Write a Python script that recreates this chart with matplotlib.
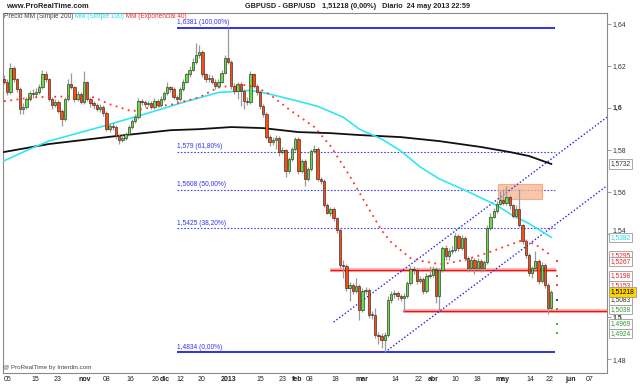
import numpy as np
import matplotlib
matplotlib.use("Agg")
from matplotlib import pyplot as plt
from matplotlib import transforms
from matplotlib.patches import Rectangle

plt.rcParams['font.family'] = ['Liberation Sans', 'DejaVu Sans']

# GBPUSD daily candles, bar 0 .. 171 (last bar = 24 may 2013)
# forex daily bars: each open is the previous close
first_open = 1.6135
close = [
    1.6125, 1.6073, 1.6192, 1.6135, 1.6088, 1.5993, 1.6002, 1.6040, 1.6069, 1.6064,
    1.6073, 1.6097, 1.6159, 1.6135, 1.6040, 1.6012, 1.6026, 1.5983, 1.5945, 1.6040,
    1.6111, 1.6097, 1.6040, 1.6064, 1.6026, 1.6121, 1.6040, 1.6021, 1.6012, 1.5993,
    1.6002, 1.5974, 1.5898, 1.5912, 1.5908, 1.5865, 1.5846, 1.5856, 1.5874, 1.5908,
    1.5936, 1.5955, 1.6031, 1.6026, 1.6017, 1.6021, 1.6002, 1.6031, 1.6012, 1.6040,
    1.6069, 1.6097, 1.6088, 1.6050, 1.6040, 1.6088, 1.6125, 1.6159, 1.6182, 1.6220,
    1.6253, 1.6267, 1.6159, 1.6135, 1.6144, 1.6125, 1.6102, 1.6125, 1.6168, 1.6239,
    1.6220, 1.6102, 1.6078, 1.6111, 1.6078, 1.6031, 1.6026, 1.6159, 1.6102, 1.6073,
    1.6007, 1.5969, 1.5860, 1.5837, 1.5846, 1.5856, 1.5789, 1.5799, 1.5699, 1.5756,
    1.5803, 1.5851, 1.5699, 1.5747, 1.5661, 1.5709, 1.5794, 1.5803, 1.5661, 1.5652,
    1.5538, 1.5500, 1.5519, 1.5472, 1.5415, 1.5249, 1.5245, 1.5141, 1.5155, 1.5126,
    1.5150, 1.5036, 1.5126, 1.5131, 1.5013, 1.5013, 1.4918, 1.4913, 1.4894, 1.4918,
    1.5084, 1.5112, 1.5117, 1.5103, 1.5093, 1.5103, 1.5164, 1.5231, 1.5226, 1.5174,
    1.5183, 1.5126, 1.5197, 1.5202, 1.5231, 1.5103, 1.5226, 1.5330, 1.5292, 1.5316,
    1.5320, 1.5387, 1.5330, 1.5377, 1.5283, 1.5235, 1.5273, 1.5235, 1.5268, 1.5235,
    1.5264, 1.5425, 1.5481, 1.5510, 1.5543, 1.5562, 1.5548, 1.5576, 1.5534, 1.5486,
    1.5519, 1.5439, 1.5363, 1.5297, 1.5212, 1.5235, 1.5268, 1.5174, 1.5249, 1.5155,
    1.5046, 1.51218]
high = [
    1.6154, 1.6135, 1.6215, 1.6201, 1.6144, 1.6097, 1.6021, 1.6050, 1.6078, 1.6088,
    1.6092, 1.6111, 1.6182, 1.6173, 1.6144, 1.6050, 1.6040, 1.6035, 1.5993, 1.6050,
    1.6135, 1.6168, 1.6106, 1.6078, 1.6073, 1.6173, 1.6130, 1.6050, 1.6031, 1.6021,
    1.6017, 1.6012, 1.5983, 1.5922, 1.5927, 1.5917, 1.5874, 1.5870, 1.5884, 1.5917,
    1.5945, 1.5969, 1.6045, 1.6040, 1.6035, 1.6031, 1.6031, 1.6045, 1.6040, 1.6054,
    1.6078, 1.6125, 1.6106, 1.6097, 1.6059, 1.6097, 1.6135, 1.6168, 1.6201, 1.6239,
    1.6310, 1.6301, 1.6277, 1.6168, 1.6159, 1.6154, 1.6135, 1.6135, 1.6182, 1.6253,
    1.6381, 1.6230, 1.6116, 1.6125, 1.6121, 1.6088, 1.6050, 1.6173, 1.6168, 1.6111,
    1.6083, 1.6017, 1.5979, 1.5870, 1.5860, 1.5870, 1.5865, 1.5813, 1.5803, 1.5766,
    1.5813, 1.5860, 1.5860, 1.5756, 1.5756, 1.5718, 1.5803, 1.5822, 1.5813, 1.5671,
    1.5661, 1.5548, 1.5529, 1.5529, 1.5481, 1.5425, 1.5273, 1.5254, 1.5169, 1.5164,
    1.5188, 1.5160, 1.5141, 1.5145, 1.5141, 1.5032, 1.5046, 1.4932, 1.4927, 1.4932,
    1.5103, 1.5126, 1.5131, 1.5126, 1.5112, 1.5117, 1.5174, 1.5245, 1.5245, 1.5235,
    1.5197, 1.5193, 1.5212, 1.5245, 1.5245, 1.5240, 1.5235, 1.5339, 1.5344, 1.5330,
    1.5339, 1.5401, 1.5396, 1.5392, 1.5387, 1.5292, 1.5287, 1.5283, 1.5283, 1.5278,
    1.5273, 1.5439, 1.5496, 1.5524, 1.5557, 1.5605, 1.5614, 1.5628, 1.5586, 1.5543,
    1.5534, 1.5614, 1.5448, 1.5373, 1.5306, 1.5245, 1.5316, 1.5278, 1.5264, 1.5259,
    1.5164, 1.5131]
low = [
    1.6111, 1.6059, 1.6064, 1.6121, 1.6073, 1.5969, 1.5969, 1.5993, 1.6031, 1.6045,
    1.6050, 1.6064, 1.6088, 1.6121, 1.6031, 1.5993, 1.6002, 1.5974, 1.5912, 1.5936,
    1.6031, 1.6088, 1.6026, 1.6031, 1.6017, 1.6017, 1.6031, 1.6002, 1.5993, 1.5983,
    1.5979, 1.5960, 1.5889, 1.5884, 1.5893, 1.5851, 1.5827, 1.5837, 1.5846, 1.5865,
    1.5898, 1.5927, 1.5945, 1.6012, 1.6002, 1.6007, 1.5993, 1.5993, 1.6002, 1.6002,
    1.6031, 1.6059, 1.6073, 1.6040, 1.6026, 1.6031, 1.6078, 1.6116, 1.6149, 1.6173,
    1.6211, 1.6239, 1.6149, 1.6121, 1.6125, 1.6111, 1.6088, 1.6092, 1.6116, 1.6159,
    1.6211, 1.6088, 1.6064, 1.6040, 1.6007, 1.5993, 1.6012, 1.6017, 1.6092, 1.6059,
    1.5993, 1.5955, 1.5851, 1.5818, 1.5822, 1.5803, 1.5770, 1.5780, 1.5671, 1.5690,
    1.5747, 1.5794, 1.5685, 1.5690, 1.5628, 1.5652, 1.5699, 1.5784, 1.5652, 1.5638,
    1.5529, 1.5491, 1.5486, 1.5462, 1.5401, 1.5235, 1.5188, 1.5126, 1.5079, 1.5112,
    1.5117, 1.4989, 1.5027, 1.5112, 1.4998, 1.4994, 1.4904, 1.4871, 1.4856, 1.4834,
    1.4909, 1.5069, 1.5093, 1.5084, 1.5079, 1.5032, 1.5093, 1.5155, 1.5207, 1.5160,
    1.5164, 1.5112, 1.5117, 1.5188, 1.5193, 1.5069, 1.5032, 1.5216, 1.5273, 1.5273,
    1.5302, 1.5311, 1.5316, 1.5320, 1.5268, 1.5216, 1.5226, 1.5207, 1.5226, 1.5216,
    1.5221, 1.5254, 1.5415, 1.5472, 1.5500, 1.5534, 1.5534, 1.5538, 1.5519, 1.5472,
    1.5472, 1.5429, 1.5349, 1.5283, 1.5197, 1.5188, 1.5221, 1.5160, 1.5164, 1.5141,
    1.5017, 1.5036]

# moving averages, sampled off the chart (bar, value)
ma200_bar = [0, 14, 35, 52, 61, 71, 81, 92, 102, 111, 124, 136, 149, 158, 164, 171]
ma200_val = [1.5789, 1.5827, 1.5865, 1.5893, 1.5898, 1.5908, 1.5903, 1.5884, 1.5879,
             1.5870, 1.5860, 1.5841, 1.5813, 1.5789, 1.5770, 1.5732]
ma100_bar = [0, 8, 14, 30, 46, 56, 67, 77, 82, 92, 98, 106, 111, 118, 124, 130, 136,
             145, 154, 159, 164, 171]
ma100_val = [1.5747, 1.5803, 1.5841, 1.5908, 1.5979, 1.6026, 1.6073, 1.6083, 1.6069,
             1.6031, 1.6007, 1.5955, 1.5898, 1.5851, 1.5794, 1.5718, 1.5661, 1.5600,
             1.5534, 1.5486, 1.5448, 1.5382]
ema40_bar = [0, 9, 20, 28, 33, 40, 46, 53, 61, 67, 74, 79, 83, 89, 97, 102, 106, 108,
             113, 118, 121, 124, 127, 131, 134, 137, 142, 149, 155, 162, 166, 171]
ema40_val = [1.6031, 1.6050, 1.6054, 1.6050, 1.6017, 1.5983, 1.6002, 1.6017, 1.6050,
             1.6097, 1.6111, 1.6097, 1.6064, 1.5993, 1.5908, 1.5818, 1.5723, 1.5676,
             1.5543, 1.5415, 1.5358, 1.5320, 1.5283, 1.5268, 1.5259, 1.5254, 1.5268,
             1.5297, 1.5330, 1.5368, 1.5349, 1.5295]

# fibonacci retracement
fib_price = [1.6381, 1.5790, 1.5608, 1.5425, 1.4834]
fib_text = ["1,6381 (100,00%)", "1,579 (61,80%)", "1,5608 (50,00%)",
            "1,5425 (38,20%)", "1,4834 (0,00%)"]

# pivot points of the next session
pivot_val = [1.5267, 1.5198, 1.5153, 1.5083, 1.5038, 1.4969, 1.4924]
pivot_col = ["#ee2222", "#ee2222", "#ee2222", "#222222", "#339933", "#339933", "#339933"]

# value boxes on the price scale
box_val = [1.5732, 1.5382, 1.5295, 1.5267, 1.5198, 1.5153, 1.5083, 1.5038, 1.4969, 1.4924, 1.51218]
box_text = ["1,5732", "1,5382", "1,5295", "1,5267", "1,5198", "1,5153", "1,5083",
            "1,5038", "1,4969", "1,4924", "1,51218"]
box_col = ["#333333", "#22dddd", "#ee2222", "#ee2222", "#ee2222", "#ee2222", "#333333",
           "#339933", "#339933", "#339933", "#000000"]

# 1,52 sits under the value boxes, as on the original
y_ticks = [1.48, 1.50, 1.54, 1.56, 1.58, 1.60, 1.62, 1.64]
y_labels = ["1,48", "1,5", "1,54", "1,56", "1,58", "1,6", "1,62", "1,64"]

x_tick_bar = [1.2, 9.7, 16.9, 25.3, 32.2, 39.4, 47.2, 50.3, 55.0, 61.6, 70.0, 80.0, 87.2,
              91.6, 95.6, 103.4, 111.9, 122.2, 129.4, 134.1, 140.9, 147.8, 155.6, 164.4,
              170.6, 176.9, 183.1]
x_tick_text = ["05", "15", "23", "nov", "08", "16", "26", "dic", "12", "20", "2013", "15",
               "23", "feb", "08", "18", "mar", "14", "22", "abr", "10", "18", "may", "14",
               "22", "jun", "07"]
bold_ticks = ["nov", "dic", "2013", "feb", "mar", "abr", "may", "jun"]

################################################################################

fig = plt.figure(figsize=(6.4, 3.84), dpi=100)
ax = fig.add_axes([3 / 640, 1 - 373 / 384, 604 / 640, 360 / 384])
ax.set_xlim(-0.31, 188.4)
ax.set_ylim(1.4735, 1.6452)

idx = np.arange(len(close))
cl = np.array(close)
op = np.array([first_open] + close[:-1])
up = cl >= op
body_lo = np.minimum(op, cl)
body_h = np.maximum(np.abs(cl - op), 0.00022)

# fibonacci levels
for p, t in zip(fib_price, fib_text):
    solid = "(100,00%)" in t or "(0,00%)" in t
    if solid:
        ax.hlines(p, 54, 172, color="#2020ee", lw=1.3, zorder=2)
    else:
        ax.hlines(p, 54, 172, color="#4444ee", lw=0.8, linestyles=(0, (1.5, 1.5)), zorder=2)
    ax.text(54, p + 0.0007, t, color="#3333ee", fontsize=4.8, ha="left", va="bottom", zorder=6)

# support / resistance
ax.hlines(1.5226, 102, 172.5, color="#ffbbbb", lw=3, zorder=2)
ax.hlines(1.5226, 102, 172.5, color="#ee1111", lw=1, zorder=2)
ax.hlines(1.5030, 124.7, 188.4, color="#ffbbbb", lw=3, zorder=2)
ax.hlines(1.5030, 124.7, 188.4, color="#ee1111", lw=1, zorder=2)

# orange zone at the top
ax.add_patch(Rectangle((154.4, 1.5567), 13.6, 0.0071, fc="#f9b48c", ec="#f39a6a",
                       lw=0.8, alpha=0.75, zorder=2))

# channel
ax.plot([119, 188.4], [1.4834, 1.5628], color="#2222ee", lw=1,
        ls=(0, (1, 1.5)), zorder=2)
ax.plot([103, 188.4], [1.4978, 1.5955], color="#2222ee", lw=1,
        ls=(0, (1, 1.5)), zorder=2)

# moving averages
ax.plot(ma200_bar, ma200_val, color="#111111", lw=1.3, zorder=3)
ax.plot(ma100_bar, ma100_val, color="#33e6f2", lw=1.2, zorder=3)
ax.plot(ema40_bar, ema40_val, color="#ff3030", lw=1.3, ls=(0, (1, 2.5)), zorder=5)

# candles
ax.vlines(idx, low, high, color="#9a9a9a", lw=0.9, zorder=3)
ax.bar(idx[up], body_h[up], 0.74, bottom=body_lo[up], color="#66dd44",
       edgecolor="#1a1a1a", lw=0.4, zorder=4)
ax.bar(idx[~up], body_h[~up], 0.74, bottom=body_lo[~up], color="#ff4a12",
       edgecolor="#1a1a1a", lw=0.4, zorder=4)

# pivot dashes
ax.hlines(pivot_val, 172.4, 173.2, colors=pivot_col, lw=1.2, zorder=4)

# axes look
for s in ax.spines.values():
    s.set_color("#8a8a8a")
    s.set_linewidth(0.8)
ax.yaxis.tick_right()
ax.set_yticks(y_ticks)
ax.set_yticklabels(y_labels)
ax.tick_params(axis="y", length=3, width=0.6, color="#8a8a8a", pad=1,
               labelsize=5, labelcolor="#333333")
for lab in ax.get_yticklabels():
    if lab.get_text() in ("1,5", "1,6"):
        lab.set_fontweight("bold")
    if lab.get_text() == "1,54":
        # peeks out above the 1,5382 box
        lab.set_verticalalignment("bottom")
ax.set_xticks(x_tick_bar)
ax.set_xticklabels(x_tick_text)
ax.tick_params(axis="x", length=0, pad=2, labelsize=5, labelcolor="#222222")
for lab in ax.get_xticklabels():
    if lab.get_text() in bold_ticks:
        lab.set_fontweight("bold")

# value boxes
trans = transforms.blended_transform_factory(ax.transAxes, ax.transData)
for v, t, c in zip(box_val, box_text, box_col):
    fc = "#ffd400" if t == "1,51218" else "white"
    ax.text(1.006, v, t, transform=trans, color=c, fontsize=4.8, ha="left", va="center",
            clip_on=False, zorder=10,
            bbox=dict(boxstyle="square,pad=0.2", fc=fc, ec="#9a9a9a", lw=0.6))

# header texts
fig.text(6 / 640, 1 - 6 / 384, "www.ProRealTime.com", fontsize=5.4, fontweight="bold",
         color="#222222", va="center")
fig.text(316 / 640, 1 - 6 / 384, "GBPUSD - GBP/USD", fontsize=5.2, fontweight="bold",
         color="#222222", va="center", ha="right")
fig.text(322 / 640, 1 - 6 / 384, "1,51218 (0,00%)   Diario  24 may 2013 22:59", fontsize=5.2,
         fontweight="bold", color="#222222", va="center")

# legend line, each piece placed after the previous one
leg = fig.text(4 / 640, 1 - 17 / 384, "Precio MM (Simple 200)", fontsize=4.7,
               color="#444444", va="center")
leg = ax.annotate(" MM (Simple 100)", xy=(1, 0.5), xycoords=leg, fontsize=4.7,
                  color="#22e0ee", va="center", ha="left", annotation_clip=False)
ax.annotate(" MM (Exponencial 40)", xy=(1, 0.5), xycoords=leg, fontsize=4.7,
            color="#ee3333", va="center", ha="left", annotation_clip=False)

fig.text(3 / 640, 1 - 367 / 384, "@ ProRealTime by Interdin.com", fontsize=4.5,
         color="#444444", va="center")

fig.savefig("out.png", dpi=100, facecolor="white")
